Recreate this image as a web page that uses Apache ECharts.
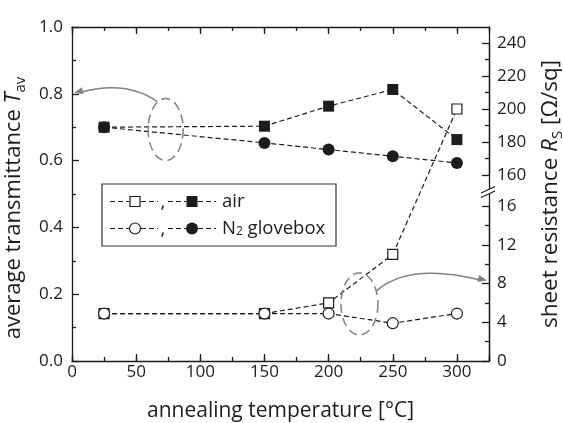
<!DOCTYPE html>
<html><head><meta charset="utf-8">
<script src="https://cdn.jsdelivr.net/npm/echarts@6/dist/echarts.min.js"></script>
<style>html,body{margin:0;padding:0;background:#fff}#c{width:563px;height:423px}</style>
</head><body><div id="c"></div>
<script>
// ---- data ----
const temps   = [25, 150, 200, 250, 300];
const tavAir  = [0.700, 0.703, 0.763, 0.813, 0.663];
const tavN2   = [0.700, 0.653, 0.633, 0.613, 0.593];
const rsAir   = [4.9, 4.9, 6.0, 11.0, 200];
const rsN2    = [4.9, 4.9, 4.9, 3.9, 4.9];
const xRange      = [0, 325];
const tavRange    = [0, 1];
const rsLowRange  = [0, 16];
const rsHighRange = [160, 240];
const xStep = 50, tavStep = 0.2, rsLowStep = 4, rsHighStep = 20;

// ---- styles ----
const FONT = '"Open Sans", sans-serif';
const INK = '#1c1c1c';
const GREY = '#808080';
const axLine = {color: INK, width: 1.3};
const lbl = {color: INK, fontFamily: FONT, fontSize: 17};
const dash = {type: [5, 3], width: 1.2, color: INK};

const pairs = (xs, ys) => xs.map((x, i) => [x, ys[i]]);
const lowPart = (xs, ys) => pairs(xs, ys).filter(p => p[1] <= rsLowRange[1]);
const highPart = (xs, ys) => pairs(xs, ys).filter(p => p[1] >= rsHighRange[0]);

function nameStyle(fs, padding) {
  const lh = Math.round(fs * 1.25);
  return {fontFamily: FONT, fontSize: fs, color: INK, lineHeight: lh, padding: padding || 0,
    rich: {
      i: {fontFamily: FONT, fontSize: fs, fontStyle: 'italic', color: INK, lineHeight: lh},
      sub: {fontFamily: FONT, fontSize: Math.round(fs * 0.67), color: INK, lineHeight: Math.round(fs * 0.67), verticalAlign: 'bottom'}
    }};
}

const chart = echarts.init(document.getElementById('c'), null, {renderer: 'canvas'});

const G = {left: 72, right: 74, outerBoundsMode: 'none', containLabel: false};
const option = {
  animation: false,
  backgroundColor: '#fff',
  grid: [
    {...G, top: 27, bottom: 62},
    {...G, top: 206, bottom: 62},
    {...G, top: 43, bottom: 248},
    {...G, top: 27, bottom: 62}
  ],
  xAxis: [
    {gridIndex: 0, type: 'value', position: 'bottom', min: xRange[0], max: xRange[1], interval: xStep,
     axisLine: {onZero: false, lineStyle: axLine}, axisTick: {inside: true, length: 7, lineStyle: axLine},
     axisLabel: {...lbl, margin: 3, formatter: v => (v % xStep === 0 ? String(v) : '')},
     splitLine: {show: false},
     name: 'annealing temperature [°C]', nameLocation: 'middle', nameGap: 37, nameTextStyle: nameStyle(21)},
    {gridIndex: 0, type: 'value', position: 'top', min: xRange[0], max: xRange[1], interval: xStep,
     axisLine: {onZero: false, lineStyle: axLine}, axisTick: {inside: true, length: 7, lineStyle: axLine},
     axisLabel: {show: false}, splitLine: {show: false}},
    {gridIndex: 1, type: 'value', position: 'bottom', min: xRange[0], max: xRange[1], interval: xStep / 2,
     axisLine: {show: false, onZero: false}, axisTick: {inside: true, length: 4, lineStyle: axLine},
     axisLabel: {show: false}, splitLine: {show: false}},
    {gridIndex: 2, type: 'value', show: false, min: xRange[0], max: xRange[1], splitLine: {show: false}},
    {gridIndex: 3, type: 'value', position: 'top', min: xRange[0], max: xRange[1], interval: xStep / 2,
     axisLine: {show: false, onZero: false}, axisTick: {inside: true, length: 4, lineStyle: axLine},
     axisLabel: {show: false}, splitLine: {show: false}}
  ],
  yAxis: [
    {gridIndex: 0, type: 'value', position: 'left', min: tavRange[0], max: tavRange[1], interval: tavStep,
     axisLine: {onZero: false, lineStyle: axLine}, axisTick: {inside: true, length: 7, lineStyle: axLine},
     minorTick: {show: true, splitNumber: 2, length: 4, lineStyle: axLine},
     axisLabel: {...lbl, margin: 9, formatter: v => v.toFixed(1)},
     splitLine: {show: false}, minorSplitLine: {show: false},
     name: 'average transmittance {i|T}{sub|av}', nameLocation: 'middle', nameGap: 33,
     nameTextStyle: nameStyle(22, [0, 28, 0, 0])},
    {gridIndex: 0, type: 'value', position: 'right', min: tavRange[0], max: tavRange[1],
     axisLine: {onZero: false, lineStyle: axLine}, axisTick: {show: false}, axisLabel: {show: false},
     splitLine: {show: false},
     name: 'sheet resistance {i|R}{sub|S} [Ω/sq]', nameLocation: 'middle', nameGap: 48,
     nameTextStyle: nameStyle(22.5)},
    {gridIndex: 1, type: 'value', position: 'right', min: rsLowRange[0], max: rsLowRange[1], interval: rsLowStep,
     axisLine: {show: true, onZero: false, lineStyle: axLine}, axisTick: {inside: true, length: 7, lineStyle: axLine},
     minorTick: {show: true, splitNumber: 2, length: 4, lineStyle: axLine},
     axisLabel: {...lbl, margin: 8}, splitLine: {show: false}},
    {gridIndex: 2, type: 'value', position: 'right', min: rsHighRange[0], max: rsHighRange[1], interval: rsHighStep,
     axisLine: {show: true, onZero: false, lineStyle: axLine}, axisTick: {inside: true, length: 7, lineStyle: axLine},
     minorTick: {show: true, splitNumber: 2, length: 4, lineStyle: axLine},
     axisLabel: {...lbl, margin: 8}, splitLine: {show: false}},
    {gridIndex: 3, type: 'value', show: false, min: 0, max: 1, splitLine: {show: false}}
  ],
  series: [
    {type: 'line', xAxisIndex: 0, yAxisIndex: 0, data: pairs(temps, tavN2), symbol: 'circle', symbolSize: 12,
     itemStyle: {color: INK}, lineStyle: dash, z: 4, silent: true},
    {type: 'line', xAxisIndex: 0, yAxisIndex: 0, data: pairs(temps, tavAir), symbol: 'rect', symbolSize: 11,
     itemStyle: {color: INK}, lineStyle: dash, z: 5, silent: true},
    {type: 'line', xAxisIndex: 2, yAxisIndex: 2, data: lowPart(temps, rsAir), symbol: 'rect', symbolSize: 10,
     itemStyle: {color: '#fff', borderColor: INK, borderWidth: 1.2}, lineStyle: dash, z: 4, silent: true},
    {type: 'line', xAxisIndex: 3, yAxisIndex: 3, data: highPart(temps, rsAir), symbol: 'rect', symbolSize: 10,
     itemStyle: {color: '#fff', borderColor: INK, borderWidth: 1.2}, lineStyle: dash, z: 4, silent: true},
    {type: 'line', xAxisIndex: 2, yAxisIndex: 2, data: pairs(temps, rsN2), symbol: 'circle', symbolSize: 11,
     itemStyle: {color: '#fff', borderColor: INK, borderWidth: 1.2}, lineStyle: dash, z: 5, silent: true}
  ]
};
chart.setOption(option);

// ---- decorations computed from the axes ----
const px = (axes, v) => chart.convertToPixel(axes, v);
const lowPts = lowPart(temps, rsAir), highPts = highPart(temps, rsAir);
const pA = px({xAxisIndex: 2, yAxisIndex: 2}, lowPts[lowPts.length - 1]);
const pB = px({xAxisIndex: 3, yAxisIndex: 3}, highPts[0]);

function ellipsePts(c, rx, ry, n) {
  const pts = [];
  for (let k = 0; k < n; k++) { const a = 2 * Math.PI * k / n; pts.push([c[0] + rx * Math.cos(a), c[1] + ry * Math.sin(a)]); }
  return pts;
}
function arrowHead(tip, from, len, hw) {
  const dx = tip[0] - from[0], dy = tip[1] - from[1], d = Math.hypot(dx, dy), ux = dx / d, uy = dy / d;
  const bx = tip[0] - ux * len, by = tip[1] - uy * len;
  return [[tip[0], tip[1]], [bx - uy * hw, by + ux * hw], [bx + uy * hw, by - ux * hw]];
}
const c1 = px({xAxisIndex: 0, yAxisIndex: 0}, [73, 0.693]);
const c2 = px({xAxisIndex: 0, yAxisIndex: 0}, [224, 0.171]);
const tip1 = px({xAxisIndex: 0, yAxisIndex: 0}, [0, 0.8]); tip1[0] += 2; tip1[1] -= 1;
const tip2 = px({xAxisIndex: 2, yAxisIndex: 2}, [xRange[1], 8]); tip2[0] -= 2; tip2[1] -= 3;
const s1 = [c1[0] - 8.5, c1[1] - 28], k1 = [c1[0] - 40, c1[1] - 50];
const s2 = [c2[0] + 17, c2[1] - 13], k2 = [c2[0] + 50, c2[1] - 42];
const annStyle = {stroke: GREY, lineWidth: 1.5, fill: null};

const rAx = px({xAxisIndex: 0, yAxisIndex: 0}, [xRange[1], 0])[0];
const yLowTop = px({xAxisIndex: 2, yAxisIndex: 2}, [0, rsLowRange[1]])[1];
const yHighBot = px({xAxisIndex: 3, yAxisIndex: 3}, [0, rsHighRange[0]])[1];
const ym = (yLowTop + yHighBot) / 2;

// legend
const LX = 102, LY = 184, LW = 234, LH = 62;
const rows = [LY + 17.5, LY + 44.5];
const LF = 18.5;
function legendRow(y, sym, label) {
  const els = [];
  [[110, 129], [141, 158], [168, 186], [198, 216]].forEach(s =>
    els.push({type: 'line', z: 31, shape: {x1: s[0], y1: y, x2: s[1], y2: y}, style: {stroke: INK, lineWidth: 1.2, lineDash: [5, 3]}}));
  if (sym === 'rect') {
    els.push({type: 'rect', z: 32, shape: {x: 135 - 5, y: y - 5, width: 10, height: 10}, style: {fill: '#fff', stroke: INK, lineWidth: 1.2}});
    els.push({type: 'rect', z: 32, shape: {x: 192 - 5.5, y: y - 5.5, width: 11, height: 11}, style: {fill: INK}});
  } else {
    els.push({type: 'circle', z: 32, shape: {cx: 135, cy: y, r: 5.5}, style: {fill: '#fff', stroke: INK, lineWidth: 1.2}});
    els.push({type: 'circle', z: 32, shape: {cx: 192, cy: y, r: 6}, style: {fill: INK}});
  }
  els.push({type: 'text', z: 32, style: {text: ',', x: 163, y: y + 1, font: LF + 'px ' + FONT, fill: INK, align: 'center', verticalAlign: 'middle'}});
  els.push({type: 'text', z: 32, style: {text: label, x: 222, y: y, font: LF + 'px ' + FONT, fill: INK, align: 'left', verticalAlign: 'middle',
    rich: {sub: {fontFamily: FONT, fontSize: 12, fill: INK, lineHeight: 10, verticalAlign: 'bottom'}}}});
  return els;
}

chart.setOption({
  graphic: [
    {type: 'line', z: 1, shape: {x1: pA[0], y1: pA[1], x2: pB[0], y2: pB[1]}, style: {stroke: INK, lineWidth: 1.2, lineDash: [5, 3]}},
    {type: 'polygon', z: 10, shape: {points: ellipsePts(c1, 17.5, 31, 90)}, style: {...annStyle, lineDash: [9, 5]}},
    {type: 'polygon', z: 10, shape: {points: ellipsePts(c2, 18.5, 31, 90)}, style: {...annStyle, lineDash: [9, 5]}},
    {type: 'bezierCurve', z: 10, shape: {x1: s1[0], y1: s1[1], cpx1: k1[0], cpy1: k1[1], x2: tip1[0] + 5, y2: tip1[1]}, style: annStyle},
    {type: 'polygon', z: 10, shape: {points: arrowHead(tip1, k1, 9, 3.5)}, style: {fill: GREY}},
    {type: 'bezierCurve', z: 10, shape: {x1: s2[0], y1: s2[1], cpx1: k2[0], cpy1: k2[1], x2: tip2[0] - 5, y2: tip2[1]}, style: annStyle},
    {type: 'polygon', z: 10, shape: {points: arrowHead(tip2, k2, 9, 3.5)}, style: {fill: GREY}},
    // axis break
    {type: 'polygon', z: 20, shape: {points: [[rAx - 8, ym + 2.5], [rAx + 6, ym - 4], [rAx + 6, ym + 0.5], [rAx - 8, ym + 7]]}, style: {fill: '#fff'}},
    {type: 'line', z: 21, shape: {x1: rAx - 8, y1: ym + 2.5, x2: rAx + 6, y2: ym - 4}, style: {stroke: INK, lineWidth: 1.2}},
    {type: 'line', z: 21, shape: {x1: rAx - 8, y1: ym + 7, x2: rAx + 6, y2: ym + 0.5}, style: {stroke: INK, lineWidth: 1.2}},
    // legend
    {type: 'rect', z: 30, shape: {x: LX, y: LY, width: LW, height: LH}, style: {fill: '#fff', stroke: '#333', lineWidth: 1.2}}
  ].concat(legendRow(rows[0], 'rect', 'air'), legendRow(rows[1], 'circle', 'N{sub|2} glovebox'))
});
</script></body></html>
